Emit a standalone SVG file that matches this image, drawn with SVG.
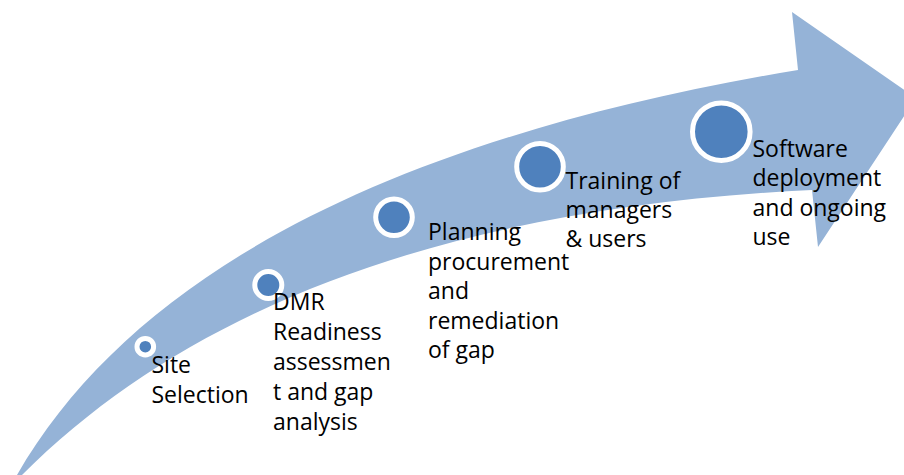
<svg xmlns="http://www.w3.org/2000/svg" width="904" height="475" viewBox="0 0 904 475">
  <style>
    .band { fill: #95B3D7; }
    .dot { fill: #4F81BD; stroke: #FFFFFF; stroke-width: 5; }
    .label { font-family: "Open Sans", "DejaVu Sans", sans-serif; font-size: 23px; fill: #000000; }
  </style>

  <!-- curved progress arrow -->
  <g id="arrow">
    <path class="band" d="M 15,481 L 17,475 C 134,272 395,137 798,70 L 792,12 L 916,98 L 818,247 L 812,190 C 459,207 195,302 22,475 Z"/>
  </g>

  <!-- milestones along the arrow -->
  <g id="site-selection">
    <circle class="dot" cx="145.3" cy="346.7" r="8.3"/>
    <text class="label" x="151.5">
      <tspan x="151.5" y="373">Site</tspan>
      <tspan x="151.5" y="403">Selection</tspan>
    </text>
  </g>

  <g id="dmr-readiness">
    <circle class="dot" cx="268.3" cy="285" r="13.5"/>
    <text class="label">
      <tspan x="273" y="309.5">DMR</tspan>
      <tspan x="273" y="339.5">Readiness</tspan>
      <tspan x="273" y="369.5">assessmen</tspan>
      <tspan x="273" y="399.5">t and gap</tspan>
      <tspan x="273" y="429.5">analysis</tspan>
    </text>
  </g>

  <g id="planning">
    <circle class="dot" cx="394" cy="217.3" r="18.3"/>
    <text class="label">
      <tspan x="428" y="240">Planning</tspan>
      <tspan x="428" y="269.5">procurement</tspan>
      <tspan x="428" y="299">and</tspan>
      <tspan x="428" y="328.5">remediation</tspan>
      <tspan x="428" y="358">of gap</tspan>
    </text>
  </g>

  <g id="training">
    <circle class="dot" cx="540" cy="166.7" r="23.3"/>
    <text class="label">
      <tspan x="565.5" y="188.5">Training of</tspan>
      <tspan x="565.5" y="218">managers</tspan>
      <tspan x="565.5" y="247">&amp; users</tspan>
    </text>
  </g>

  <g id="software-deployment">
    <circle class="dot" cx="721.3" cy="131.7" r="28.8"/>
    <text class="label">
      <tspan x="752.5" y="156.5">Software</tspan>
      <tspan x="752.5" y="186">deployment</tspan>
      <tspan x="752.5" y="215.5">and ongoing</tspan>
      <tspan x="752.5" y="245">use</tspan>
    </text>
  </g>
</svg>
